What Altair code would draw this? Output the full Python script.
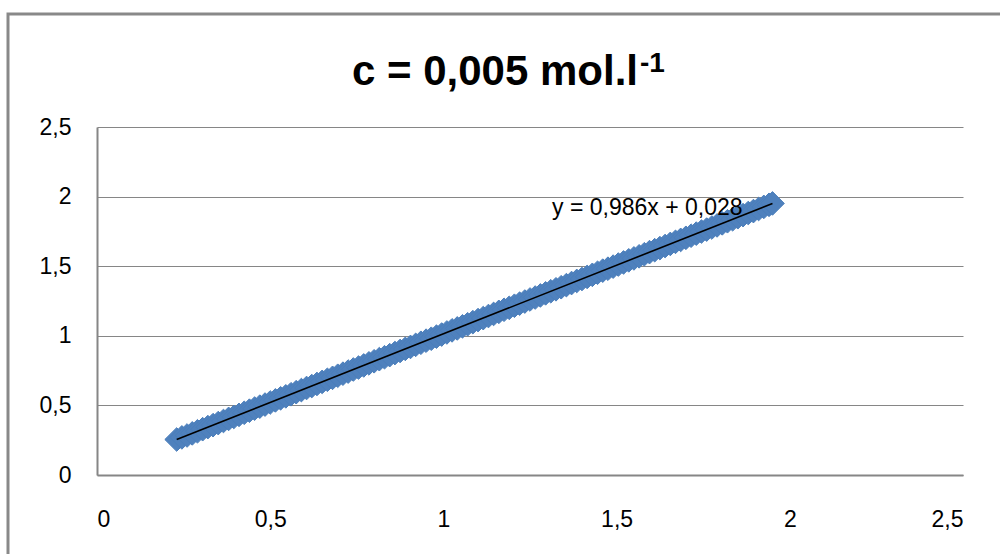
import altair as alt
import pandas as pd

# data
xs = [0.230, 0.245, 0.260, 0.275, 0.290, 0.305, 0.320, 0.335, 0.350, 0.365,
      0.380, 0.395, 0.410, 0.425, 0.440, 0.455, 0.470, 0.485, 0.500, 0.515,
      0.530, 0.545, 0.560, 0.575, 0.590, 0.605, 0.620, 0.635, 0.650, 0.665,
      0.680, 0.695, 0.710, 0.725, 0.740, 0.755, 0.770, 0.785, 0.800, 0.815,
      0.830, 0.845, 0.860, 0.875, 0.890, 0.905, 0.920, 0.935, 0.950, 0.965,
      0.980, 0.995, 1.010, 1.025, 1.040, 1.055, 1.070, 1.085, 1.100, 1.115,
      1.130, 1.145, 1.160, 1.175, 1.190, 1.205, 1.220, 1.235, 1.250, 1.265,
      1.280, 1.295, 1.310, 1.325, 1.340, 1.355, 1.370, 1.385, 1.400, 1.415,
      1.430, 1.445, 1.460, 1.475, 1.490, 1.505, 1.520, 1.535, 1.550, 1.565,
      1.580, 1.595, 1.610, 1.625, 1.640, 1.655, 1.670, 1.685, 1.700, 1.715,
      1.730, 1.745, 1.760, 1.775, 1.790, 1.805, 1.820, 1.835, 1.850, 1.865,
      1.880, 1.895, 1.910, 1.925, 1.940, 1.950]
ys = [0.255, 0.270, 0.284, 0.299, 0.314, 0.329, 0.344, 0.358, 0.373, 0.388,
      0.403, 0.417, 0.432, 0.447, 0.462, 0.477, 0.491, 0.506, 0.521, 0.536,
      0.551, 0.565, 0.580, 0.595, 0.610, 0.625, 0.639, 0.654, 0.669, 0.684,
      0.698, 0.713, 0.728, 0.743, 0.758, 0.772, 0.787, 0.802, 0.817, 0.832,
      0.846, 0.861, 0.876, 0.891, 0.906, 0.920, 0.935, 0.950, 0.965, 0.979,
      0.994, 1.009, 1.024, 1.039, 1.053, 1.068, 1.083, 1.098, 1.113, 1.127,
      1.142, 1.157, 1.172, 1.187, 1.201, 1.216, 1.231, 1.246, 1.261, 1.275,
      1.290, 1.305, 1.320, 1.334, 1.349, 1.364, 1.379, 1.394, 1.408, 1.423,
      1.438, 1.453, 1.468, 1.482, 1.497, 1.512, 1.527, 1.542, 1.556, 1.571,
      1.586, 1.601, 1.615, 1.630, 1.645, 1.660, 1.675, 1.689, 1.704, 1.719,
      1.734, 1.749, 1.763, 1.778, 1.793, 1.808, 1.823, 1.837, 1.852, 1.867,
      1.882, 1.896, 1.911, 1.926, 1.941, 1.951]
ticks = [0, 0.5, 1, 1.5, 2, 2.5]
title_main = "c = 0,005 mol.l"
title_sup = "-1"
equation = "y = 0,986x + 0,028"

df = pd.DataFrame({"x": xs, "y": ys})
one = pd.DataFrame({"a": [0]})

FONT = "Liberation Sans"
GRAY = "#868686"
BLUE = "#4F81BD"

xscale = alt.Scale(domain=[0, 2.5], nice=False)
yscale = alt.Scale(domain=[0, 2.5], nice=False)

LBL = "replace(format(datum.value, '~g'), '.', ',')"

xaxis = alt.Axis(values=ticks, grid=False, ticks=False, domainColor=GRAY,
                 domainWidth=2, labelPadding=33, labelFontSize=23,
                 labelFont=FONT, labelColor="#000000",
                 labelExpr=LBL, title=None)
yaxis = alt.Axis(values=ticks, grid=True, gridColor=GRAY, gridWidth=1.2,
                 ticks=False, domainColor=GRAY, domainWidth=2,
                 labelPadding=26, labelFontSize=23, labelFont=FONT,
                 labelColor="#000000",
                 labelExpr=LBL, title=None)

base = alt.Chart(df)

points = base.mark_point(shape="diamond", filled=True, size=560, fill=BLUE,
                         stroke="#4A7EBB", strokeWidth=1, opacity=1).encode(
    x=alt.X("x:Q", scale=xscale, axis=xaxis),
    y=alt.Y("y:Q", scale=yscale, axis=yaxis),
)

trend = base.transform_regression("x", "y").mark_line(
    color="#000000", strokeWidth=1.6).encode(
    x=alt.X("x:Q", scale=xscale),
    y=alt.Y("y:Q", scale=yscale),
)

eq = alt.Chart(one).mark_text(text=equation, font=FONT, fontSize=23,
                              align="left", baseline="alphabetic",
                              color="#000000").encode(
    x=alt.value(455), y=alt.value(88))

t_main = alt.Chart(one).mark_text(text=title_main, font=FONT, fontSize=42,
                                  fontWeight="bold", align="right",
                                  baseline="alphabetic",
                                  color="#000000").encode(
    x=alt.value(541), y=alt.value(-42))
t_sup = alt.Chart(one).mark_text(text=title_sup, font=FONT, fontSize=28,
                                 fontWeight="bold", align="left",
                                 baseline="alphabetic",
                                 color="#000000").encode(
    x=alt.value(543), y=alt.value(-55))

frame = alt.Chart(one).mark_rect(fill="#ffffff", fillOpacity=0,
                                 stroke="#898989", strokeWidth=3).encode(
    x=alt.value(-89), x2=alt.value(1000), y=alt.value(-113), y2=alt.value(520))

chart = alt.layer(frame, points, trend, eq, t_main, t_sup).properties(
    width=866, height=348,
    autosize=alt.AutoSizeParams(type="none"),
    padding={"left": 97, "top": 127, "right": 37, "bottom": 79},
    background="#ffffff",
).configure_view(stroke=None)

chart.save("out.html", embed_options={"renderer": "svg", "actions": False})
